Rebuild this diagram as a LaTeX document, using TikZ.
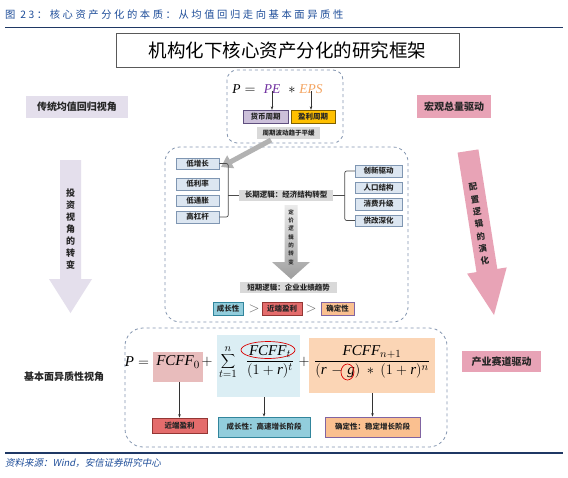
\documentclass[tikz,border=0pt]{standalone}
\usepackage[no-math]{fontspec}
\setmainfont{Noto Sans CJK SC}
\newfontfamily\hdrfont{Noto Sans CJK SC}[LetterSpace=25]
\newfontfamily\srcfont{Noto Sans CJK SC}[FakeSlant=0.2]
\newfontfamily\fmlf{Liberation Serif}
\usetikzlibrary{arrows.meta,shapes.geometric}
\definecolor{hdr}{HTML}{1F4E9A}
\definecolor{hline}{HTML}{1F3864}
\definecolor{dashc}{HTML}{8496B0}
\definecolor{lav}{HTML}{E4DFEC}
\definecolor{pinkc}{HTML}{E8A3B6}
\definecolor{bgray}{HTML}{D9D9D9}
\definecolor{blfill}{HTML}{DCE6F1}
\definecolor{bldraw}{HTML}{7F96B2}
\definecolor{purfill}{HTML}{CCC0DA}
\definecolor{purdraw}{HTML}{5F4F7F}
\definecolor{gold}{HTML}{FFC000}
\definecolor{golddraw}{HTML}{7F6000}
\definecolor{cyanf}{HTML}{92CDDC}
\definecolor{cyand}{HTML}{31859C}
\definecolor{redf}{HTML}{E46C6C}
\definecolor{redd}{HTML}{943634}
\definecolor{orf}{HTML}{FAC090}
\definecolor{ord}{HTML}{8064A2}
\definecolor{pinkbgc}{HTML}{E8BCBC}
\definecolor{bluebgc}{HTML}{DBEEF4}
\definecolor{orbgc}{HTML}{FBD5B5}
\definecolor{pecol}{HTML}{7030A0}
\definecolor{epscol}{HTML}{F4A460}
\newcommand{\fsz}[1]{\fontsize{#1}{#1}\selectfont}
\newcommand{\fszb}[2]{\fontsize{#1}{#2}\selectfont}
\newcommand{\mi}[1]{\hbox{\fmlf\itshape #1}}
\tikzset{
  dbox/.style={draw=dashc, dashed, line width=0.8pt},
  lbl/.style={inner sep=0pt, font=\fsz{7.5}\bfseries, text=black!85},
  blb/.style={lbl, fill=blfill, draw=bldraw, line width=0.5pt},
  glb/.style={lbl, fill=bgray},
  brk/.style={draw=black!70, line width=0.7pt, rounded corners=2pt},
  thinarr/.style={draw=black!80, line width=0.5pt, -{Stealth[length=3.5pt,width=2.5pt]}},
  side/.style={inner sep=0pt, font=\fsz{10}\bfseries, text=black!85},
  fml/.style={inner sep=0pt, font=\fsz{13.5}},
  bfml/.style={inner sep=0pt, font=\fsz{15}},
}
\begin{document}
\begin{tikzpicture}[x=1pt,y=-1pt]
\useasboundingbox[fill=white] (0,0) rectangle (568,477);
% header
\node[anchor=west, inner sep=0pt, text=hdr, font=\hdrfont\fsz{10.3}] (head) at (5,15) {图 23：核心资产分化的本质：从均值回归走向基本面异质性};
\draw[hline, line width=1.2pt] (5,27.5) -- (563,27.5);
% title
\node[draw=black!65, line width=0.8pt, minimum width=343pt, minimum height=34pt, inner sep=0pt, font=\fsz{18.5}] (title) at (287.5,50) {机构化下核心资产分化的研究框架};
% top dashed box
\draw[dbox, rounded corners=10pt] (227,70) rectangle (343,143);
\node[fml, anchor=base] (fP) at (244,93) {$\mi{P}=$};
\node[fml, anchor=base, text=pecol] (fPE) at (272,93) {$\mi{PE}$};
\node[fml, anchor=base] (fst) at (292,93) {$*$};
\node[fml, anchor=base, text=epscol] (fEPS) at (311,93) {$\mi{EPS}$};
\node[lbl, fill=purfill, draw=purdraw, minimum width=45pt, minimum height=13pt] (huobi) at (265.5,116.5) {货币周期};
\node[lbl, fill=gold, draw=golddraw, minimum width=44pt, minimum height=13pt] (yingli) at (313,116.5) {盈利周期};
\node[glb, font=\fsz{6.5}\bfseries, minimum width=63pt, minimum height=12pt] (zq) at (288.5,133) {周期波动趋于平缓};
\draw[thinarr] ([yshift=2pt]fPE.south) -- (fPE.south |- huobi.north);
\draw[thinarr] ([yshift=2pt]fEPS.south) -- (fEPS.south |- yingli.north);
% middle dashed box
\draw[dbox, rounded corners=15pt] (165,147) rectangle (408,322);
\coordinate (ga1) at (271,140);
\coordinate (ga2) at (221,167);
\draw[draw=black!30, line width=5pt, -{Triangle[length=11pt,width=14pt]}] (ga1) -- (ga2);
\node[blb, minimum width=43pt, minimum height=11pt] (l1) at (197.5,163.5) {低增长};
\node[blb, minimum width=43pt, minimum height=12pt] (l2) at (197.5,184) {低利率};
\node[blb, minimum width=43pt, minimum height=11pt] (l3) at (197.5,200.5) {低通胀};
\node[blb, minimum width=43pt, minimum height=12pt] (l4) at (197.5,217) {高杠杆};
\node[blb, minimum width=47pt, minimum height=12pt] (r1) at (378.5,171) {创新驱动};
\node[blb, minimum width=47pt, minimum height=11pt] (r2) at (378.5,187.5) {人口结构};
\node[blb, minimum width=47pt, minimum height=12pt] (r3) at (378.5,204) {消费升级};
\node[blb, minimum width=47pt, minimum height=11pt] (r4) at (378.5,220.5) {供改深化};
\node[glb, minimum width=94pt, minimum height=11pt] (longlab) at (286,195) {长期逻辑：经济结构转型};
\draw[brk] (l1.east) -- ++(9,0) |- (l4.east);
\draw[brk] (longlab.west) -- ++(-11,0);
\draw[brk] (r1.west) -- ++(-10,0) |- (r4.west);
\draw[brk] (longlab.east) -- ++(12,0);
% down arrow in middle
\shade[top color=black!8, bottom color=black!38] (284.5,205) -- (297.5,205) -- (297.5,262) -- (310,262) -- (291,279) -- (272,262) -- (284.5,262) -- cycle;
\node[inner sep=0pt, align=center, font=\fszb{5.5}{8.3}\bfseries, text=black!80] (djz) at (291,237) {定\\价\\逻\\辑\\的\\转\\变};
\node[glb, minimum width=97pt, minimum height=11pt] (shortlab) at (288.5,287.5) {短期逻辑：企业业绩趋势};
\node[lbl, fill=cyanf, draw=cyand, line width=0.7pt, minimum width=30pt, minimum height=13pt] (s1) at (228,308.5) {成长性};
\node[inner sep=0pt, font=\fsz{15}, text=black!60] (gt1) at (254,308.5) {$>$};
\node[lbl, fill=redf, draw=redd, line width=0.7pt, minimum width=40pt, minimum height=13pt] (s2) at (282,308.5) {近端盈利};
\node[inner sep=0pt, font=\fsz{15}, text=black!60] (gt2) at (311,308.5) {$>$};
\node[lbl, fill=orf, draw=ord, line width=0.7pt, minimum width=33pt, minimum height=13pt] (s3) at (337.5,308.5) {确定性};
% bottom dashed box
\draw[dbox, rounded corners=18pt] (125,328) rectangle (447,447);
\node[fill=pinkbgc, minimum width=50pt, minimum height=30pt, inner sep=0pt] (pinkbg) at (178,367) {};
\node[fill=bluebgc, minimum width=83pt, minimum height=62pt, inner sep=0pt] (bluebg) at (258.5,366) {};
\node[fill=orbgc, minimum width=126pt, minimum height=55pt, inner sep=0pt] (orbg) at (372,365.5) {};
\node[bfml] (bP) at (137,362) {$\mi{P}=$};
\node[bfml] (bF0) at (178,362) {$\mi{FCFF}_0$};
\node[bfml] (bp1) at (207,362) {$+$};
\node[bfml] (bsum) at (228,362) {$\displaystyle\sum_{t=1}^{n}$};
\node[bfml] (bfr1) at (270,362) {$\displaystyle\frac{\mi{FCFF}_t}{(1+\mi{r})^t}$};
\node[bfml] (bp2) at (304,362) {$+$};
\node[bfml] (bfr2) at (372,362) {$\displaystyle\frac{\mi{FCFF}_{n+1}}{(\mi{r}\mkern2mu-\mkern2mu\mi{g})\mkern4mu*\mkern4mu(1+\mi{r})^n}$};
\node[ellipse, draw=red!85!black, line width=0.7pt, minimum width=54pt, minimum height=17pt, inner sep=0pt] (ell1) at (268,350) {};
\node[ellipse, draw=red!85!black, line width=0.7pt, minimum width=13pt, minimum height=16pt, inner sep=0pt] (ell2) at (347.5,372) {};
\node[lbl, fill=redf, draw=redd, line width=0.7pt, minimum width=55pt, minimum height=15pt] (bb1) at (179.5,425.5) {近端盈利};
\node[lbl, fill=cyanf, draw=cyand, line width=0.7pt, minimum width=92pt, minimum height=20pt] (bb2) at (264,427) {成长性：高速增长阶段};
\node[lbl, fill=orf, draw=ord, line width=0.7pt, minimum width=95pt, minimum height=20pt] (bb3) at (372.5,427) {确定性：稳定增长阶段};
\draw[thinarr] (bb1.north |- pinkbg.south) -- (bb1.north);
\draw[thinarr] (bb2.north |- bluebg.south) -- (bb2.north);
\draw[thinarr] (bb3.north |- orbg.south) -- (bb3.north);
% left side
\node[side, fill=lav, minimum width=102pt, minimum height=22pt] (lt) at (77,107) {传统均值回归视角};
\fill[lav] (60,160) -- (81,160) -- (81,279) -- (92,279) -- (70.5,313) -- (49,279) -- (60,279) -- cycle;
\node[inner sep=0pt, align=center, font=\fszb{9}{12}\bfseries, text=black!85] (ltxt) at (70.5,229) {投\\资\\视\\角\\的\\转\\变};
\node[side] (lb) at (64,377) {基本面异质性视角};
% right side
\node[side, fill=pinkc, minimum width=74pt, minimum height=23pt] (rt) at (454,106.5) {宏观总量驱动};
\fill[pinkc] (457.6,152.6) -- (478.4,149.4) -- (497.3,268.9) -- (506.7,267.4) -- (494,315) -- (467.1,273.6) -- (476.5,272.1) -- cycle;
\node[inner sep=0pt, align=center, rotate=9, font=\fszb{8.5}{12.5}\bfseries, text=black!85] (rtxt) at (479,224) {配\\置\\逻\\辑\\的\\演\\化};
\node[side, fill=pinkc, minimum width=79pt, minimum height=21pt] (rb) at (501.5,361.5) {产业赛道驱动};
% footer
\draw[hline, line width=1.2pt] (5,453) -- (563,453);
\node[anchor=west, inner sep=0pt, text=hdr, font=\srcfont\fsz{9.5}] (src) at (5,463) {资料来源：Wind，安信证券研究中心};
\end{tikzpicture}
\end{document}
